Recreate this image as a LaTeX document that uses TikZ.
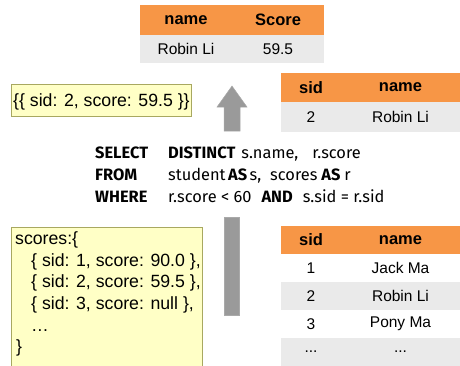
\documentclass[tikz,border=0pt]{standalone}
\usepackage{fontspec}
\setmainfont{Liberation Sans}
\newfontfamily\sqlfont{Fira Sans}
\definecolor{hdr}{HTML}{F79646}
\definecolor{rowg}{HTML}{EAEAEA}
\definecolor{noteY}{HTML}{FFFFC6}
\definecolor{noteB}{HTML}{A8A860}
\definecolor{arr}{HTML}{9A9A9A}
\begin{document}
\begin{tikzpicture}[x=1pt,y=-1pt,
  cell/.style={rectangle,draw=none,inner sep=0pt,outer sep=0pt,font=\fontsize{15.5}{18}\selectfont},
  hcell/.style={cell,fill=hdr,font=\fontsize{16.5}{19}\selectfont\bfseries},
  gcell/.style={cell,fill=rowg},
  wcell/.style={cell,fill=white},
  note/.style={rectangle,draw=noteB,fill=noteY,line width=0.8pt,inner sep=0pt,outer sep=0pt},
  notetext/.style={anchor=base west,inner sep=0pt,font=\fontsize{17.7}{22}\selectfont},
  sql/.style={anchor=base west,inner sep=0pt,font=\sqlfont\fontsize{16.4}{20}\selectfont},
  arrowfill/.style={fill=arr,draw=arr!85!white,line width=0.5pt}]
\useasboundingbox (0,0) rectangle (460,365);

% ---- top result table
\node[hcell,minimum width=92,minimum height=30] (t1h1) at (186,20) {name};
\node[hcell,minimum width=92,minimum height=30] (t1h2) at (278,20) {Score};
\node[gcell,minimum width=92,minimum height=28] (t1r1) at (186,49) {Robin Li};
\node[gcell,minimum width=92,minimum height=28] (t1r2) at (278,49) {59.5};

% ---- top-right table
\node[hcell,minimum width=60,minimum height=29] (t2h1) at (311,87.5) {sid};
\node[hcell,minimum width=119,minimum height=29] (t2h2) at (400.5,87.5) {name};
\node[gcell,minimum width=60,minimum height=30] (t2r1) at (311,117) {2};
\node[gcell,minimum width=119,minimum height=30] (t2r2) at (400.5,117) {Robin Li};

% ---- bottom-right table
\node[hcell,minimum width=60,minimum height=28] (t3h1) at (311,240) {sid};
\node[hcell,minimum width=119,minimum height=28] (t3h2) at (400.5,240) {name};
\node[wcell,minimum width=60,minimum height=28] (t3a1) at (311,268) {1};
\node[wcell,minimum width=119,minimum height=28] (t3a2) at (400.5,268) {Jack Ma};
\node[gcell,minimum width=60,minimum height=28] (t3b1) at (311,296) {2};
\node[gcell,minimum width=119,minimum height=28] (t3b2) at (400.5,296) {Robin Li};
\node[wcell,minimum width=60,minimum height=28] (t3c1) at (311,324) {3};
\node[wcell,minimum width=119,minimum height=28] (t3c2) at (400.5,324) {Pony Ma};
\node[gcell,minimum width=60,minimum height=28] (t3d1) at (311,352) {...};
\node[gcell,minimum width=119,minimum height=28] (t3d2) at (400.5,352) {...};

% ---- notes
\node[note,minimum width=180,minimum height=32,anchor=north west] (n1) at (11,84) {};
\node[notetext] (n1t) at (13,106.3) {\{\{ sid: 2, score: 59.5 \}\}};

\node[note,minimum width=191,minimum height=142,anchor=north west] (n2) at (11,227) {};
\node[notetext] (l1) at (15,244.3) {scores:\{};
\node[notetext] (l2) at (31,266) {\{ sid: 1, score: 90.0 \},};
\node[notetext] (l3) at (31,287.7) {\{ sid: 2, score: 59.5 \},};
\node[notetext] (l4) at (31,309.4) {\{ sid: 3, score: null \},};
\node[notetext] (l5) at (31,331) {\dots};
\node[notetext] (l6) at (16,352.7) {\}};

% ---- SQL
\node[sql] (s1a) at (95,158) {\bfseries SELECT};
\node[sql] (s1b) at (168,158) {\textbf{DISTINCT}\hspace{6pt}s.name,\hspace{14pt}r.score};
\node[sql] (s2a) at (95,180) {\bfseries FROM};
\node[sql] (s2b) at (168,180) {student\hspace{2.5pt}\textbf{AS}\hspace{2.5pt}s,\hspace{9pt}scores\hspace{4pt}\textbf{AS}\hspace{4pt}r};
\node[sql] (s3a) at (95,202) {\bfseries WHERE};
\node[sql] (s3b) at (168,202) {r.score < 60\hspace{10pt}\textbf{AND}\hspace{10pt}s.sid = r.sid};

% ---- flow arrow
\fill[arrowfill] (224,217) rectangle (239,315);
\fill[arrowfill] (224,131) -- (224,107) -- (217,107) -- (232,86) -- (247,107) -- (240,107) -- (240,131) -- cycle;
\end{tikzpicture}
\end{document}
